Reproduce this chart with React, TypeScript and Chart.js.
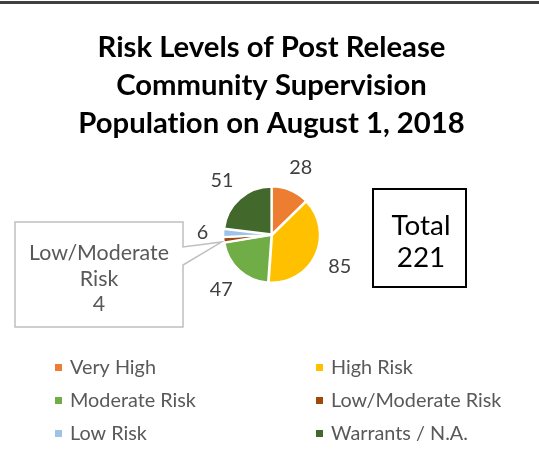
import React, { useEffect, useRef } from "react";
import { Chart, registerables } from "chart.js";

Chart.register(...registerables);

const categories = ["Very High", "High Risk", "Moderate Risk", "Low/Moderate Risk", "Low Risk", "Warrants / N.A."];
const values = [28, 85, 47, 4, 6, 51];
const colors = ["#ED7D31", "#FFC000", "#70AD47", "#9E480E", "#9DC3E6", "#43682B"];
const titleLines = ["Risk Levels of Post Release", "Community Supervision", "Population on August 1, 2018"];
const calloutIndex = 3;
const calloutLines = ["Low/Moderate", "Risk"];
const totalLabel = "Total";

const FONT = "Lato, 'Open Sans', sans-serif";

function fitSize(ctx: CanvasRenderingContext2D, text: string, weight: string, target: number) {
  ctx.font = `${weight} 100px ${FONT}`;
  return (100 * target) / ctx.measureText(text).width;
}

const drawPlugin = {
  id: "customDraw",
  afterDraw(chart: any) {
    const ctx: CanvasRenderingContext2D = chart.ctx;
    ctx.save();
    (ctx as any).textRendering = "optimizeSpeed";

    // top border
    ctx.fillStyle = "#404040";
    ctx.fillRect(0, 1, 539, 3);

    // title
    const tSize = fitSize(ctx, titleLines[0], "bold", 348);
    ctx.font = `bold ${tSize}px ${FONT}`;
    ctx.fillStyle = "#000000";
    ctx.textAlign = "center";
    ctx.textBaseline = "alphabetic";
    titleLines.forEach((l, i) => ctx.fillText(l, 271.5, 57 + i * 38));

    // data labels
    const meta = chart.getDatasetMeta(0);
    const lSize = fitSize(ctx, "28", "normal", 23);
    ctx.font = `normal ${lSize}px ${FONT}`;
    ctx.fillStyle = "#404040";
    meta.data.forEach((arc: any, i: number) => {
      if (i === calloutIndex) return;
      const mid = (arc.startAngle + arc.endAngle) / 2;
      const ux = Math.cos(mid);
      const uy = Math.sin(mid);
      const txt = String(values[i]);
      const w = ctx.measureText(txt).width;
      const h = 20;
      const d = arc.outerRadius + 16;
      const cx = arc.x + d * ux + (ux * w) / 2;
      const cy = arc.y + d * uy + (uy * h) / 2;
      ctx.textAlign = "center";
      ctx.fillText(txt, cx, cy + lSize * 0.36);
    });

    // callout
    const carc = meta.data[calloutIndex];
    const cmid = (carc.startAngle + carc.endAngle) / 2;
    const tipX = carc.x + (carc.outerRadius + 3) * Math.cos(cmid);
    const tipY = carc.y + (carc.outerRadius + 3) * Math.sin(cmid) + 2;
    ctx.beginPath();
    ctx.moveTo(15, 222);
    ctx.lineTo(183, 222);
    ctx.lineTo(183, 247);
    ctx.lineTo(tipX, tipY);
    ctx.lineTo(183, 265);
    ctx.lineTo(183, 327);
    ctx.lineTo(15, 327);
    ctx.closePath();
    ctx.fillStyle = "#FFFFFF";
    ctx.fill();
    ctx.strokeStyle = "#BFBFBF";
    ctx.lineWidth = 1.5;
    ctx.stroke();
    const cSize = fitSize(ctx, calloutLines[0], "normal", 140);
    ctx.font = `normal ${cSize}px ${FONT}`;
    ctx.fillStyle = "#595959";
    ctx.textAlign = "center";
    const cl = [...calloutLines, String(values[calloutIndex])];
    cl.forEach((l, i) => ctx.fillText(l, 99, 260 + i * 25.5));

    // total box
    ctx.strokeStyle = "#000000";
    ctx.lineWidth = 2;
    ctx.strokeRect(373, 189, 93, 98);
    const tot = values.reduce((a, b) => a + b, 0);
    const bSize = fitSize(ctx, totalLabel, "normal", 59);
    ctx.font = `normal ${bSize}px ${FONT}`;
    ctx.fillStyle = "#000000";
    ctx.fillText(totalLabel, 421, 235);
    ctx.fillText(String(tot), 421, 267);

    // legend
    const gSize = fitSize(ctx, "Moderate Risk", "normal", 126);
    ctx.font = `normal ${gSize}px ${FONT}`;
    ctx.textAlign = "left";
    categories.forEach((c, i) => {
      const col = i % 2;
      const row = Math.floor(i / 2);
      const sx = col === 0 ? 55 : 316;
      const by = 374 + row * 33;
      ctx.fillStyle = colors[i];
      ctx.fillRect(sx, by - 10, 7, 7);
      ctx.fillStyle = "#595959";
      ctx.fillText(c, sx + 15, by);
    });

    ctx.restore();
  },
};

export default function App() {
  const ref = useRef<HTMLCanvasElement | null>(null);
  useEffect(() => {
    if (!ref.current) return;
    const chart = new Chart(ref.current, {
      type: "pie",
      data: {
        labels: categories,
        datasets: [
          {
            data: values,
            backgroundColor: colors,
            borderColor: "#FFFFFF",
            borderWidth: 2,
            offset: 2,
            radius: 47.5,
          } as any,
        ],
      },
      options: {
        responsive: false,
        animation: false,
        layout: { padding: { left: 221.7, right: 217.3, top: 184.7, bottom: 174.3 } },
        plugins: { legend: { display: false }, title: { display: false }, tooltip: { enabled: false } },
      },
      plugins: [drawPlugin],
    });
    return () => chart.destroy();
  }, []);
  return (
    <div style={{ position: "fixed", left: 0, top: 0, width: 539, height: 459, background: "#fff" }}>
      <canvas ref={ref} width={539} height={459} />
    </div>
  );
}
